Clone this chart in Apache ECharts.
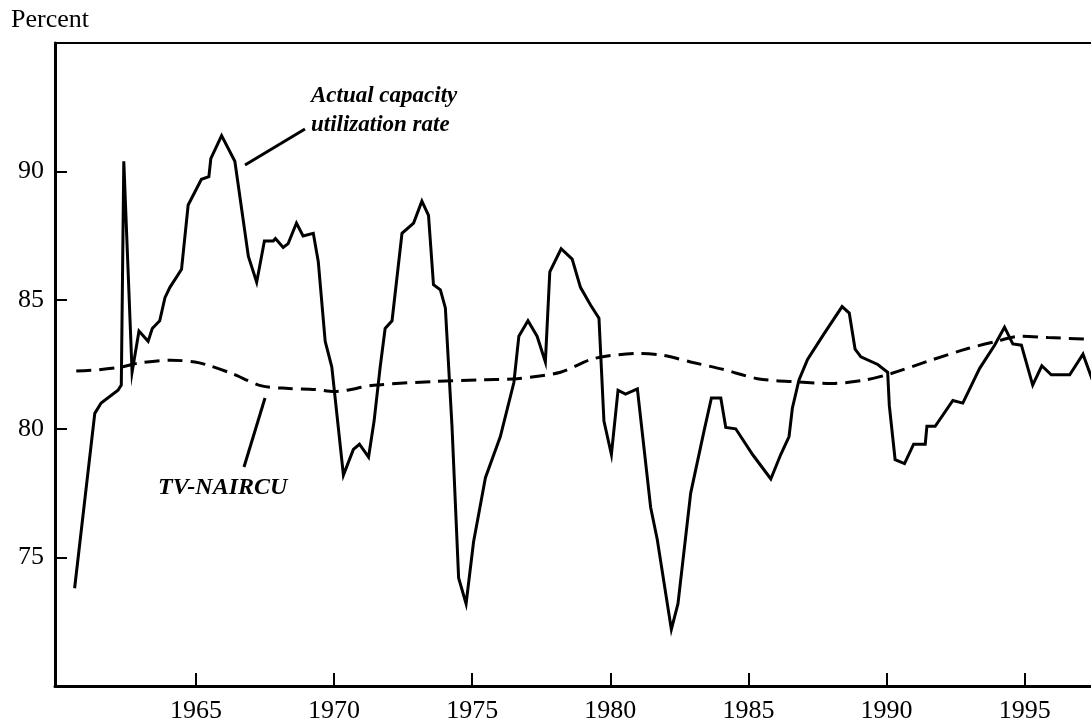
<!DOCTYPE html>
<html lang="en">
<head>
    <meta charset="UTF-8">
    <title>Capacity utilization and TV-NAIRCU</title>
    <style>
        html, body {
            margin: 0;
            padding: 0;
            background: #ffffff;
        }
        #main {
            width: 1091px;
            height: 726px;
        }
    </style>
    <script type="text/javascript" src="https://cdn.jsdelivr.net/npm/echarts@6/dist/echarts.min.js"></script>
</head>
<body>
<div id="main"></div>
<script type="text/javascript">
    // actual capacity utilization rate (decimal years)
    var actualYears = [1960.61, 1961.34, 1961.57, 1962.18, 1962.30, 1962.39, 1962.69, 1962.94, 1963.27, 1963.42,
        1963.69, 1963.88, 1964.06, 1964.48, 1964.72, 1965.20, 1965.47, 1965.54, 1965.93, 1966.41,
        1966.90, 1967.20, 1967.48, 1967.80, 1967.88, 1968.16, 1968.34, 1968.64, 1968.88, 1969.25,
        1969.43, 1969.68, 1969.92, 1970.34, 1970.70, 1970.92, 1971.25, 1971.45, 1971.67, 1971.85,
        1972.10, 1972.46, 1972.88, 1973.18, 1973.42, 1973.60, 1973.85, 1974.03, 1974.27, 1974.51,
        1974.78, 1975.05, 1975.48, 1976.02, 1976.51, 1976.69, 1977.02, 1977.35, 1977.65, 1977.81,
        1978.22, 1978.62, 1978.92, 1979.29, 1979.59, 1979.77, 1980.04, 1980.28, 1980.55, 1980.98,
        1981.46, 1981.70, 1982.21, 1982.45, 1982.91, 1983.39, 1983.66, 1984.00, 1984.18, 1984.54,
        1985.15, 1985.81, 1986.17, 1986.47, 1986.59, 1986.83, 1987.14, 1987.74, 1988.39, 1988.65,
        1988.86, 1989.07, 1989.68, 1990.04, 1990.10, 1990.31, 1990.65, 1990.98, 1991.40, 1991.46,
        1991.76, 1992.40, 1992.76, 1993.37, 1993.91, 1994.27, 1994.57, 1994.88, 1995.29, 1995.62,
        1995.96, 1996.63, 1997.11, 1997.45];
    var actualValues = [73.8, 80.6, 81.0, 81.5, 81.7, 90.4, 82.2, 83.8, 83.4, 83.9,
        84.2, 85.1, 85.5, 86.2, 88.7, 89.7, 89.8, 90.5, 91.4, 90.4,
        86.7, 85.7, 87.3, 87.3, 87.4, 87.05, 87.2, 88.0, 87.5, 87.6,
        86.5, 83.4, 82.4, 78.2, 79.2, 79.4, 78.9, 80.3, 82.4, 83.9,
        84.2, 87.6, 88.0, 88.85, 88.3, 85.6, 85.4, 84.7, 80.1, 74.2,
        73.2, 75.6, 78.1, 79.7, 81.8, 83.6, 84.2, 83.6, 82.6, 86.1,
        87.0, 86.6, 85.5, 84.8, 84.3, 80.3, 79.0, 81.5, 81.35, 81.55,
        76.95, 75.7, 72.2, 73.2, 77.5, 79.9, 81.2, 81.2, 80.05, 80.0,
        79.0, 78.05, 79.0, 79.7, 80.8, 81.9, 82.7, 83.7, 84.75, 84.5,
        83.1, 82.8, 82.5, 82.2, 80.9, 78.8, 78.65, 79.4, 79.4, 80.1,
        80.1, 81.1, 81.0, 82.35, 83.25, 83.95, 83.3, 83.25, 81.7, 82.45,
        82.1, 82.1, 82.9, 81.9];

    // time-varying NAIRCU (dashed)
    var nairYears = [1960.67, 1961.5, 1962.3, 1962.9, 1964.1, 1964.96, 1965.45, 1966.3, 1967.38, 1968.35,
        1969.31, 1970.0, 1971.43, 1973.6, 1975.42, 1976.62, 1978.2, 1979.4, 1981.1, 1981.95,
        1982.91, 1984.12, 1985.33, 1986.78, 1988.0, 1989.2, 1990.17, 1991.61, 1992.94, 1993.9,
        1994.88, 1995.84, 1997.2, 1997.7];
    var nairValues = [82.25, 82.3, 82.4, 82.55, 82.67, 82.6, 82.47, 82.15, 81.67, 81.57,
        81.53, 81.45, 81.69, 81.84, 81.91, 81.95, 82.2, 82.73, 82.93, 82.85,
        82.6, 82.3, 81.95, 81.82, 81.76, 81.89, 82.15, 82.67, 83.12, 83.38,
        83.6, 83.55, 83.49, 83.48];

    var yearTicks = [1965, 1970, 1975, 1980, 1985, 1990, 1995];
    var pctTicks = [75, 80, 85, 90];

    function pairs(xs, ys) {
        var out = [];
        for (var i = 0; i < xs.length; i++) {
            out.push([xs[i], ys[i]]);
        }
        return out;
    }

    var serif = '"Liberation Serif", "DejaVu Serif", serif';
    var chart = echarts.init(document.getElementById('main'));

    var option = {
        backgroundColor: '#ffffff',
        animation: false,
        grid: {
            left: 55,
            top: 43,
            bottom: 40,
            right: 0,
            show: false,
            containLabel: false
        },
        xAxis: [{
            type: 'value',
            min: 1959.9,
            max: 1997.4,
            axisLine: {show: true, onZero: false, lineStyle: {color: '#000', width: 3}},
            axisTick: {
                show: true, inside: true, length: 13,
                customValues: yearTicks,
                lineStyle: {color: '#000', width: 2}
            },
            axisLabel: {
                customValues: yearTicks,
                formatter: function (v) { return String(v); },
                color: '#000',
                fontFamily: serif,
                fontSize: 26,
                margin: 12
            },
            splitLine: {show: false}
        }, {
            // top frame line only
            type: 'value',
            position: 'top',
            min: 1959.9,
            max: 1997.4,
            axisLine: {show: true, onZero: false, lineStyle: {color: '#000', width: 2}},
            axisTick: {show: false},
            axisLabel: {show: false},
            splitLine: {show: false}
        }],
        yAxis: {
            type: 'value',
            min: 70,
            max: 95,
            name: 'Percent',
            nameLocation: 'end',
            nameGap: 10,
            nameTextStyle: {
                color: '#000',
                fontFamily: serif,
                fontSize: 26,
                align: 'left',
                padding: [0, 0, 0, -44]
            },
            axisLine: {show: true, onZero: false, lineStyle: {color: '#000', width: 3}},
            axisTick: {
                show: true, inside: true, length: 12,
                customValues: pctTicks,
                lineStyle: {color: '#000', width: 2}
            },
            axisLabel: {
                customValues: pctTicks,
                color: '#000',
                fontFamily: serif,
                fontSize: 26,
                margin: 11
            },
            splitLine: {show: false}
        },
        series: [{
            name: 'Actual capacity utilization rate',
            type: 'line',
            data: pairs(actualYears, actualValues),
            showSymbol: false,
            lineStyle: {color: '#000', width: 3, join: 'miter'},
            z: 3
        }, {
            name: 'TV-NAIRCU',
            type: 'line',
            data: pairs(nairYears, nairValues),
            smooth: 0.3,
            showSymbol: false,
            lineStyle: {color: '#000', width: 3, type: [15, 8]},
            z: 2
        }],
        graphic: [
            {
                type: 'text', left: 311, top: 82,
                style: {
                    text: 'Actual capacity\nutilization rate',
                    fill: '#000',
                    font: 'italic bold 23px ' + serif,
                    lineHeight: 29
                }
            },
            {
                type: 'line',
                shape: {x1: 245, y1: 165, x2: 305, y2: 129},
                style: {stroke: '#000', lineWidth: 3}
            },
            {
                type: 'text', left: 158, top: 476,
                style: {
                    text: 'TV-NAIRCU',
                    fill: '#000',
                    font: 'italic bold 24px ' + serif
                }
            },
            {
                type: 'line',
                shape: {x1: 244, y1: 467, x2: 265, y2: 398},
                style: {stroke: '#000', lineWidth: 3}
            }
        ]
    };
    chart.setOption(option);
</script>
</body>
</html>
